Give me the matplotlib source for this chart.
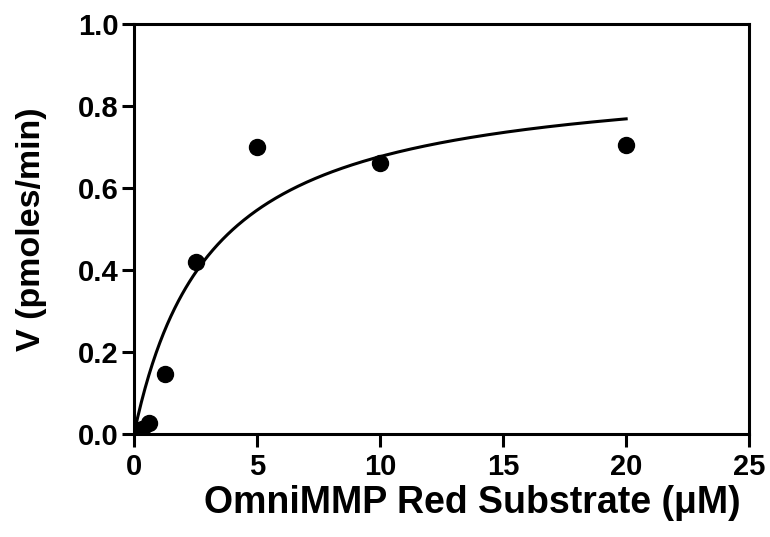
import matplotlib
matplotlib.use("Agg")
import matplotlib.pyplot as plt
import numpy as np

# substrate concentration (uM) and velocity (pmoles/min)
substrate = [0.156, 0.3125, 0.625, 1.25, 2.5, 5, 10, 20]
velocity = [0.005, 0.012, 0.027, 0.145, 0.42, 0.70, 0.66, 0.705]

# Michaelis-Menten fit shown on the chart
vmax = 0.89
km = 3.15

plt.rcParams['font.family'] = ['Liberation Sans', 'DejaVu Sans']

fig = plt.figure(figsize=(7.7, 5.37), dpi=100)
ax = fig.add_axes([0.174, 0.192, 0.799, 0.763])

xs = np.linspace(0, max(substrate), 400)
ax.plot(xs, vmax * xs / (km + xs), color='black', lw=2.2)
ax.plot(substrate, velocity, 'o', color='black', markersize=11.5)

ax.set_xlim(0, 25)
ax.set_ylim(0, 1.0)
ax.set_xticks([0, 5, 10, 15, 20, 25])
ax.set_xticklabels(['0', '5', '10', '15', '20', '25'])
ax.set_yticks([0, 0.2, 0.4, 0.6, 0.8, 1.0])
ax.set_yticklabels(['0.0', '0.2', '0.4', '0.6', '0.8', '1.0'])

for s in ax.spines.values():
    s.set_linewidth(2.2)
ax.tick_params(direction='out', length=9, width=2.2, labelsize=21, pad=2)
ax.tick_params(axis='x', pad=5)
for lab in ax.get_xticklabels() + ax.get_yticklabels():
    lab.set_fontweight('bold')

ax.set_xlabel('OmniMMP Red Substrate (\u03bcM)', fontsize=27, fontweight='bold')
ax.set_ylabel('V (pmoles/min)', fontsize=24.5, fontweight='bold', labelpad=22)
# the x label sits a bit right of centre in the original
ax.xaxis.set_label_coords(0.55, -0.125)
ax.xaxis.label.set_va('top')

fig.savefig('out.png', dpi=100)
